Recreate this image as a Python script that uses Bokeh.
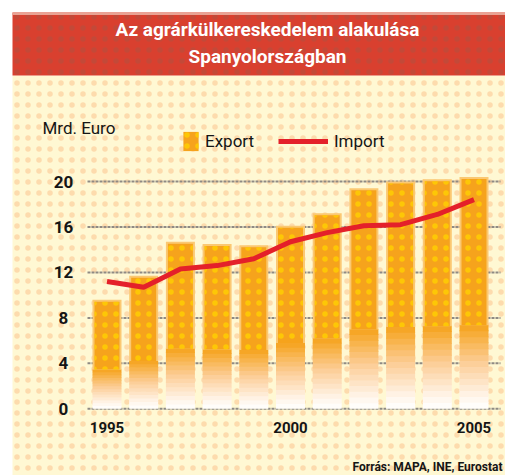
from bokeh.plotting import figure
from bokeh.models import Label, Legend, LegendItem, Range1d
from bokeh.core.properties import value
from bokeh.embed import file_html
from bokeh.resources import INLINE

# ---------------- data ----------------
years = [1995, 1996, 1997, 1998, 1999, 2000, 2001, 2002, 2003, 2004, 2005]
export = [9.6, 11.7, 14.7, 14.5, 14.4, 16.1, 17.2, 19.4, 20.0, 20.2, 20.4]
imports = [11.2, 10.7, 12.3, 12.6, 13.2, 14.7, 15.5, 16.1, 16.2, 17.1, 18.4]
y_ticks = [0, 4, 8, 12, 16, 20]
x_ticks = [1995, 2000, 2005]
title_lines = ["Az agrárkülkereskedelem alakulása", "Spanyolországban"]
unit_label = "Mrd. Euro"
series_names = ["Export", "Import"]
source_note = "Forrás: MAPA, INE, Eurostat"

# ---------------- layout ----------------
W, H = 505, 475
PX_PER_YEAR = 36.7
FIRST_BAR_PX = 106.5
PX_PER_UNIT = 11.365
ZERO_PX = 408.3
x_start = years[0] - FIRST_BAR_PX / PX_PER_YEAR
x_end = x_start + W / PX_PER_YEAR
y_top = ZERO_PX / PX_PER_UNIT
y_bot = y_top - H / PX_PER_UNIT


def X(px):
    return x_start + px / PX_PER_YEAR


def Y(py):
    return (ZERO_PX - py) / PX_PER_UNIT


FONT = "Roboto"
INK = "#151515"
CREAM = "#FFF8D3"
RED = "#D9402F"
ORANGE = "#F6A31C"
PALE = "#FBC872"
LINE_RED = "#E4202A"

p = figure(width=W, height=H, x_range=Range1d(x_start, x_end),
           y_range=Range1d(y_bot, y_top), output_backend="svg",
           toolbar_location=None, x_axis_location=None, y_axis_location=None,
           min_border=0, outline_line_color=None,
           background_fill_color="white", border_fill_color="white")
p.grid.visible = False

# background panel with halftone dots
p.quad(left=X(12), right=X(W + 20), top=Y(75), bottom=Y(H + 20),
       fill_color=CREAM, line_color=None,
       hatch_pattern="dot", hatch_color="#FCD3A4", hatch_scale=11,
       hatch_weight=1, hatch_alpha=0.8)
# red header
p.quad(left=X(12), right=X(W + 20), top=Y(12), bottom=Y(75),
       fill_color=RED, line_color=None,
       hatch_pattern="dot", hatch_color="#9C5A48", hatch_scale=11,
       hatch_weight=1, hatch_alpha=0.35)
p.quad(left=X(12), right=X(W + 20), top=Y(12), bottom=Y(14.5),
       fill_color="#E9A394", line_color=None)

for i, line in enumerate(title_lines):
    p.add_layout(Label(x=X(267), y=Y(29 + 27 * i), text=line,
                       text_align="center", text_baseline="middle",
                       text_font=FONT, text_font_style="bold",
                       text_font_size="19px", text_color="white"))

# gridlines
p.segment(x0=[X(87)] * len(y_ticks), x1=[X(500)] * len(y_ticks),
          y0=y_ticks, y1=y_ticks, line_color="#8F8A84", line_width=2,
          line_dash="3 1")

# bars with faded bottom
BAR_W = 29 / PX_PER_YEAR
FADE = 0.36
stops = [(0.0, (255, 255, 255)), (0.05, (255, 246, 236)),
         (0.20, (252, 205, 150)), (FADE, (246, 163, 28))]


def interp(f):
    for (f0, c0), (f1, c1) in zip(stops[:-1], stops[1:]):
        if f0 <= f <= f1:
            t = (f - f0) / (f1 - f0)
            return "#%02x%02x%02x" % tuple(int(round(a + (b - a) * t)) for a, b in zip(c0, c1))
    return "#%02x%02x%02x" % stops[-1][1]


N = 14
for i in range(N):
    f0 = FADE * i / N
    f1 = FADE * (i + 1) / N
    p.vbar(x=years, width=BAR_W, bottom=[v * f0 for v in export],
           top=[v * min(f1 + 0.004, FADE + 0.002) for v in export],
           fill_color=interp((f0 + f1) / 2), line_color=None)

p.vbar(x=years, width=BAR_W, bottom=[v * FADE for v in export], top=export,
       fill_color=PALE, line_color=None)
bars = p.vbar(x=years, width=BAR_W - 4 / PX_PER_YEAR,
              bottom=[v * FADE for v in export],
              top=[v - 2 / PX_PER_UNIT for v in export],
              fill_color=ORANGE, line_color=None,
              hatch_pattern="dot", hatch_color="#FFD000", hatch_scale=11,
              hatch_weight=1, hatch_alpha=0.8)

imp = p.line(x=years, y=imports, line_color=LINE_RED, line_width=5)

# tick labels
p.text(x=[X(63)] * len(y_ticks), y=y_ticks, text=[str(t) for t in y_ticks],
       text_align="center", text_baseline="middle", text_font=value(FONT),
       text_font_style="bold", text_font_size="17px", text_color=INK)
p.text(x=x_ticks, y=[Y(427)] * len(x_ticks), text=[str(t) for t in x_ticks],
       text_align="center", text_baseline="middle", text_font=value(FONT),
       text_font_style="bold", text_font_size="15px", text_color=INK)

# unit label
p.add_layout(Label(x=X(42), y=Y(127), text=unit_label, text_align="left",
                   text_baseline="middle", text_font=FONT,
                   text_font_size="17px", text_color=INK))

# legends
leg1 = Legend(items=[LegendItem(label=series_names[0], renderers=[bars])],
              location=(181, H - 153), orientation="horizontal",
              glyph_width=19, glyph_height=24, label_standoff=5,
              padding=0, margin=0, spacing=0,
              background_fill_alpha=0, border_line_color=None,
              label_text_font=FONT, label_text_font_size="17px",
              label_text_color=INK)
leg2 = Legend(items=[LegendItem(label=series_names[1], renderers=[imp])],
              location=(278, H - 153), orientation="horizontal",
              glyph_width=50, glyph_height=24, label_standoff=6,
              padding=0, margin=0, spacing=0,
              background_fill_alpha=0, border_line_color=None,
              label_text_font=FONT, label_text_font_size="17px",
              label_text_color=INK)
p.add_layout(leg1, "center")
p.add_layout(leg2, "center")

# source note
p.add_layout(Label(x=X(502), y=Y(466), text=source_note, text_align="right",
                   text_baseline="middle", text_font=FONT,
                   text_font_style="bold", text_font_size="12px",
                   text_color=INK))

open("out.html", "w").write(file_html(p, INLINE))
